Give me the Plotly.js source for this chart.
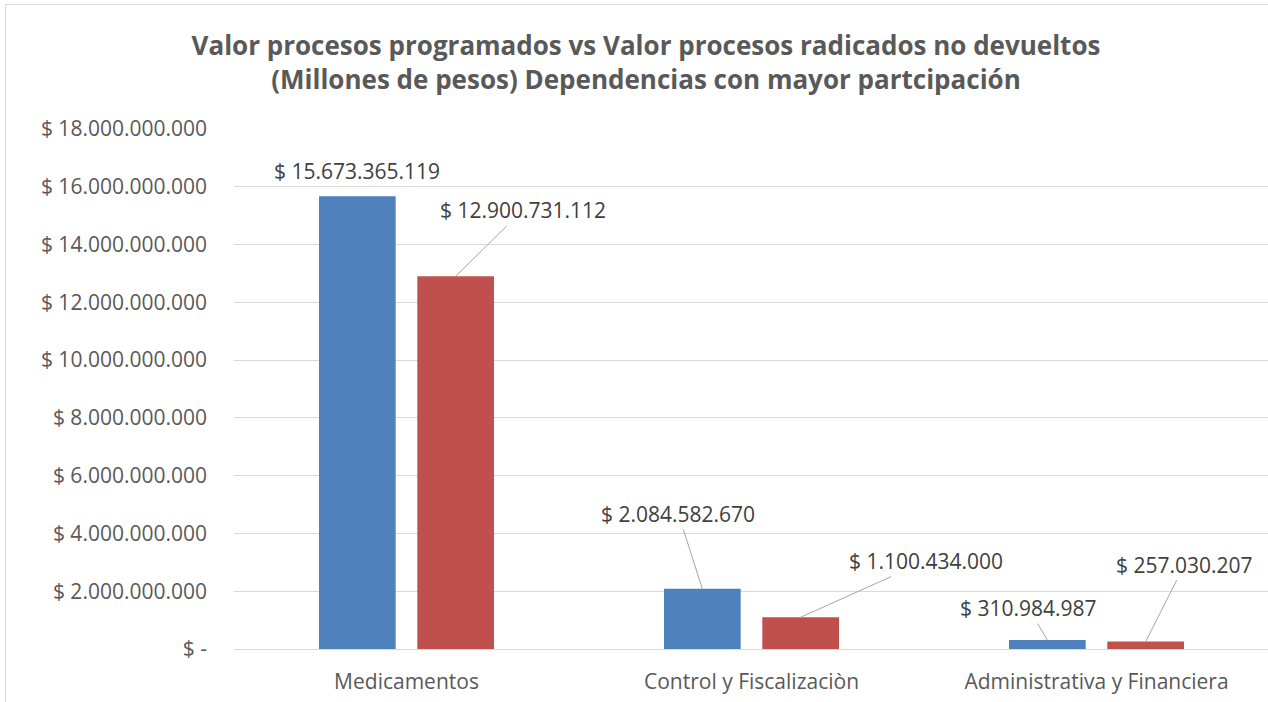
<!DOCTYPE html>
<html>
<head>
<meta charset="utf-8">
<script src="https://cdn.plot.ly/plotly-3.0.1.min.js"></script>
<style>
  body { margin: 0; background: #fff; overflow: hidden; }
  #chart { position: absolute; left: 5px; top: 4px; width: 1280px; height: 720px; border: 1px solid #d9d9d9; }
</style>
</head>
<body>
<div id="chart"></div>
<script>
// categorias y valores (pesos)
const dependencias = ['Medicamentos', 'Control y Fiscalizaciòn', 'Administrativa y Financiera'];
const programados = [15673365119, 2084582670, 310984987];
const radicados = [12900731112, 1100434000, 257030207];

const yTicks = [0, 2e9, 4e9, 6e9, 8e9, 10e9, 12e9, 14e9, 16e9, 18e9];

// label offsets (pixels from bar top to label centre)
const progOffsets = [[0, -25], [-24, -75], [-19, -32]];
const radOffsets = [[67, -66], [125, -56], [39, -77]];

function pesos(v) {
  if (v === 0) return '$ -';
  return '$ ' + String(Math.round(v)).replace(/\B(?=(\d{3})+(?!\d))/g, '.');
}

const blue = '#4F81BD';
const red = '#C0504D';
const txt = '#404040';
const bargap = 0.43;
const half = (1 - bargap) / 4; // bar centre offset in category units

const traces = [
  { type: 'bar', name: 'Programados', x: dependencias, y: programados, marker: { color: blue }, hoverinfo: 'none' },
  { type: 'bar', name: 'Radicados', x: dependencias, y: radicados, marker: { color: red }, hoverinfo: 'none' }
];

const annotations = [];
programados.forEach((v, i) => {
  const off = progOffsets[i];
  annotations.push({
    x: i - half, y: v, xref: 'x', yref: 'y', text: pesos(v),
    showarrow: true, arrowhead: 0, arrowwidth: 1, arrowcolor: i === 0 ? 'rgba(0,0,0,0)' : '#a6a6a6',
    ax: off[0], ay: off[1], font: { size: 21, color: txt }
  });
});
radicados.forEach((v, i) => {
  const off = radOffsets[i];
  annotations.push({
    x: i + half, y: v, xref: 'x', yref: 'y', text: pesos(v),
    showarrow: true, arrowhead: 0, arrowwidth: 1, arrowcolor: '#a6a6a6',
    ax: off[0], ay: off[1], font: { size: 21, color: txt }
  });
});

const layout = {
  width: 1280, height: 720,
  margin: { l: 228, r: 17, t: 124, b: 76 },
  paper_bgcolor: '#fff', plot_bgcolor: '#fff',
  font: { family: '"Open Sans", sans-serif', color: '#595959', size: 21 },
  title: {
    text: '<b>Valor procesos programados vs Valor procesos radicados no devueltos<br>(Millones de pesos) Dependencias con mayor partcipación</b>',
    font: { size: 26, color: '#595959' },
    x: 0.5, xanchor: 'center', yref: 'container', y: 0.93, yanchor: 'top'
  },
  showlegend: false,
  barmode: 'group', bargap: bargap, bargroupgap: 0.22,
  xaxis: {
    type: 'category', showgrid: false, zeroline: false, showline: false,
    ticks: '', ticklabelstandoff: 18, tickfont: { size: 21, color: '#595959' }
  },
  yaxis: {
    range: [0, 18e9], tickvals: yTicks, ticktext: yTicks.map(pesos),
    showgrid: true, gridcolor: '#d9d9d9', gridwidth: 1,
    zeroline: true, zerolinecolor: '#d9d9d9', zerolinewidth: 1,
    showline: false, ticks: '', ticklabelstandoff: 26,
    tickfont: { size: 21, color: '#595959' }
  },
  annotations: annotations
};

Plotly.newPlot('chart', traces, layout, { displayModeBar: false, staticPlot: true });
</script>
</body>
</html>
